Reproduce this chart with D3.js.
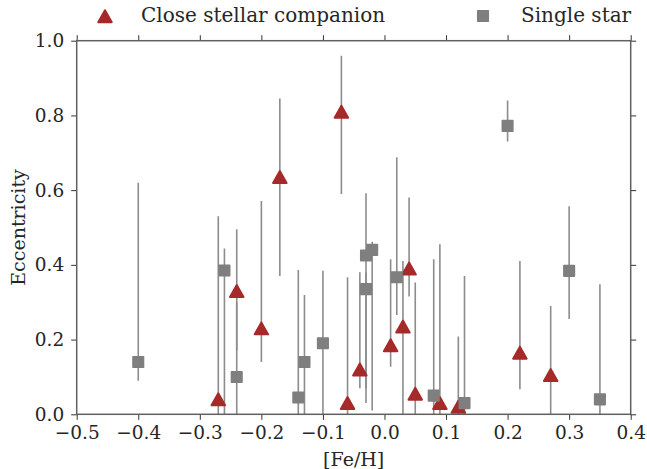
<!DOCTYPE html>
<html>
<head>
<meta charset="utf-8">
<script src="https://cdn.jsdelivr.net/npm/d3@7"></script>
<style>
  html, body { margin: 0; padding: 0; background: #fff; }
  svg { display: block; }
  text { font-family: "DejaVu Serif", serif; fill: #262626; }
</style>
</head>
<body>
<svg id="chart" width="647" height="469"></svg>
<script>
// ---- data ----
const companionFeH = [-0.27, -0.24, -0.20, -0.17, -0.07, -0.06, -0.04, 0.01, 0.03, 0.04, 0.05, 0.09, 0.12, 0.22, 0.27];
const companionEcc = [0.04, 0.33, 0.23, 0.635, 0.81, 0.03, 0.12, 0.185, 0.235, 0.39, 0.055, 0.03, 0.02, 0.165, 0.105];
const companionLo  = [0.0, 0.17, 0.14, 0.37, 0.59, 0.0, 0.07, 0.127, 0.0, 0.315, 0.0, 0.0, 0.0, 0.067, 0.0];
const companionHi  = [0.53, 0.495, 0.571, 0.845, 0.96, 0.367, 0.38, 0.415, 0.41, 0.58, 0.353, 0.455, 0.208, 0.41, 0.29];

const singleFeH = [-0.40, -0.26, -0.24, -0.14, -0.13, -0.10, -0.03, -0.03, -0.02, 0.02, 0.08, 0.13, 0.20, 0.30, 0.35];
const singleEcc = [0.14, 0.385, 0.10, 0.045, 0.14, 0.19, 0.425, 0.335, 0.44, 0.367, 0.05, 0.03, 0.772, 0.384, 0.04];
const singleLo  = [0.09, 0.0, 0.0, 0.0, 0.0, 0.0, 0.03, 0.07, 0.01, 0.266, 0.0, 0.0, 0.73, 0.255, 0.0];
const singleHi  = [0.62, 0.444, 0.3, 0.386, 0.319, 0.384, 0.592, 0.38, 0.462, 0.688, 0.415, 0.37, 0.84, 0.557, 0.348];

const xTicks = [-0.5, -0.4, -0.3, -0.2, -0.1, 0.0, 0.1, 0.2, 0.3, 0.4];
const yTicks = [0.0, 0.2, 0.4, 0.6, 0.8, 1.0];
const legendLabels = ["Close stellar companion", "Single star"];
const xLabel = "[Fe/H]";
const yLabel = "Eccentricity";

// ---- layout ----
const svg = d3.select("#chart");
const mLeft = 76.7, mRight = 630.7, mTop = 40.7, mBottom = 414.3;
const x = d3.scaleLinear().domain([-0.5, 0.4]).range([mLeft, mRight]);
const y = d3.scaleLinear().domain([0, 1]).range([mBottom, mTop]);

const red = "#a62a2a", gray = "#7f7f7f", errColor = "#8c8c8c";

const companion = companionFeH.map((v, i) => ({x: v, y: companionEcc[i], lo: companionLo[i], hi: companionHi[i]}));
const single = singleFeH.map((v, i) => ({x: v, y: singleEcc[i], lo: singleLo[i], hi: singleHi[i]}));

const plot = svg.append("g");
svg.append("clipPath").attr("id", "clip")
  .append("rect").attr("x", mLeft).attr("y", mTop).attr("width", mRight - mLeft).attr("height", mBottom - mTop);

// error bars
const errG = plot.append("g").attr("clip-path", "url(#clip)");
errG.selectAll("line").data(companion.concat(single)).join("line")
  .attr("x1", d => x(d.x)).attr("x2", d => x(d.x))
  .attr("y1", d => y(d.lo)).attr("y2", d => y(d.hi))
  .attr("stroke", errColor).attr("stroke-width", 1.6);

// triangle path
function triPath(w, h) {
  return `M0,${-h/2}L${w/2},${h/2}L${-w/2},${h/2}Z`;
}

plot.append("g").selectAll("path").data(companion).join("path")
  .attr("d", triPath(13.5, 12))
  .attr("transform", d => `translate(${x(d.x)},${y(d.y)})`)
  .attr("fill", red).attr("stroke", red).attr("stroke-width", 2).attr("stroke-linejoin", "round");

const sq = 10.5;
plot.append("g").selectAll("rect").data(single).join("rect")
  .attr("x", d => x(d.x) - sq/2).attr("y", d => y(d.y) - sq/2)
  .attr("width", sq).attr("height", sq)
  .attr("fill", gray).attr("stroke", gray).attr("stroke-width", 1.6).attr("stroke-linejoin", "round");

// axes
const fmt = d3.format(".1f");
const tickLen = 5.5;
function styleAxis(g, showLabels) {
  g.select(".domain").remove();
  g.selectAll(".tick line").attr("stroke", "#333").attr("stroke-width", 1);
  g.selectAll(".tick text").attr("font-family", "DejaVu Serif").attr("font-size", 18.5).attr("fill", "#262626");
  if (!showLabels) g.selectAll(".tick text").remove();
}
svg.append("g").attr("transform", `translate(0,${mBottom})`)
  .call(d3.axisBottom(x).tickValues(xTicks).tickFormat(fmt).tickSize(tickLen).tickPadding(6))
  .call(g => styleAxis(g, true));
svg.append("g").attr("transform", `translate(0,${mTop})`)
  .call(d3.axisTop(x).tickValues(xTicks).tickSize(tickLen))
  .call(g => styleAxis(g, false));
svg.append("g").attr("transform", `translate(${mLeft},0)`)
  .call(d3.axisLeft(y).tickValues(yTicks).tickFormat(fmt).tickSize(tickLen).tickPadding(7))
  .call(g => styleAxis(g, true));
svg.append("g").attr("transform", `translate(${mRight},0)`)
  .call(d3.axisRight(y).tickValues(yTicks).tickSize(tickLen))
  .call(g => styleAxis(g, false));

// spines
svg.append("rect").attr("x", mLeft).attr("y", mTop).attr("width", mRight - mLeft).attr("height", mBottom - mTop)
  .attr("fill", "none").attr("stroke", "#5f5f5f").attr("stroke-width", 1.5);

// axis labels
svg.append("text").attr("x", (mLeft + mRight) / 2).attr("y", 466).attr("text-anchor", "middle")
  .attr("font-size", 19).text(xLabel);
svg.append("text").attr("transform", `translate(25,${(mTop + mBottom) / 2}) rotate(-90)`)
  .attr("text-anchor", "middle").attr("font-size", 19).text(yLabel);

// legend
const leg = svg.append("g");
leg.append("path").attr("d", triPath(13.5, 12)).attr("transform", "translate(105,16.2)")
  .attr("fill", red).attr("stroke", red).attr("stroke-width", 2).attr("stroke-linejoin", "round");
leg.append("text").attr("x", 141).attr("y", 22).attr("font-size", 20).text(legendLabels[0]);
leg.append("rect").attr("x", 483 - sq/2).attr("y", 16 - sq/2).attr("width", sq).attr("height", sq)
  .attr("fill", gray).attr("stroke", gray).attr("stroke-width", 1.6).attr("stroke-linejoin", "round");
leg.append("text").attr("x", 521).attr("y", 22).attr("font-size", 20).text(legendLabels[1]);
</script>
</body>
</html>
